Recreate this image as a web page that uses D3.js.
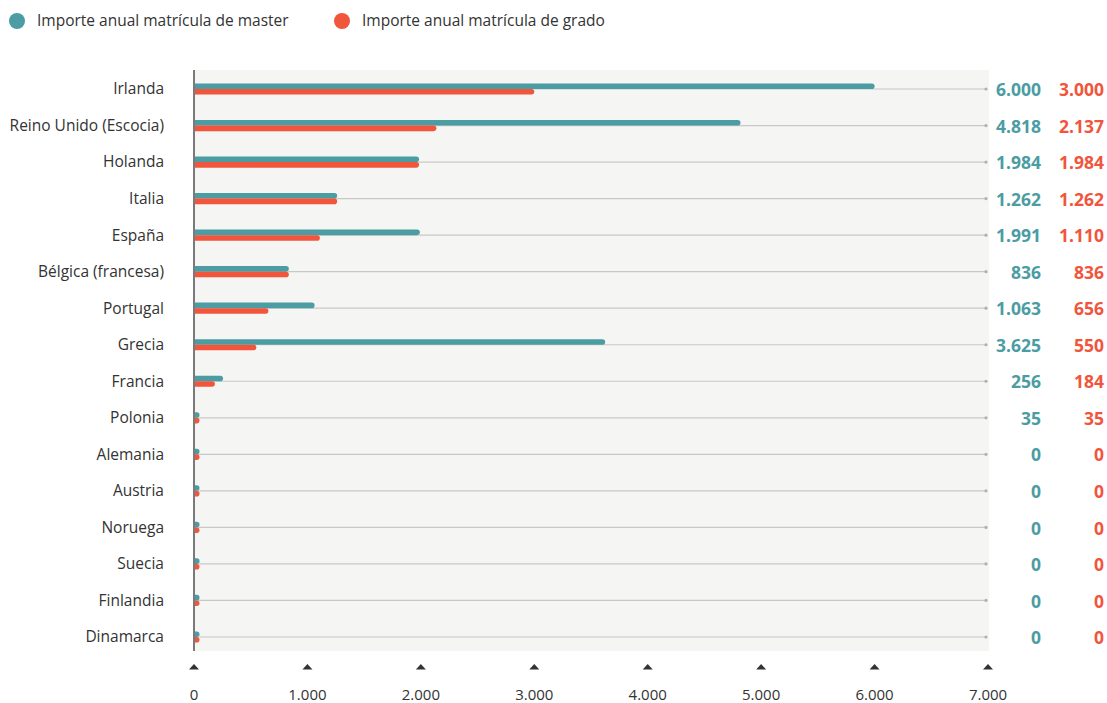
<!DOCTYPE html>
<html><head><meta charset="utf-8">
<script src="https://cdn.jsdelivr.net/npm/d3@7"></script>
<style>
html,body{margin:0;padding:0;background:#fff;}
svg{display:block;font-family:"Open Sans",sans-serif;}
</style></head>
<body>
<svg id="chart" width="1107" height="703"></svg>
<script>
const categories = ["Irlanda","Reino Unido (Escocia)","Holanda","Italia","España","Bélgica (francesa)","Portugal","Grecia","Francia","Polonia","Alemania","Austria","Noruega","Suecia","Finlandia","Dinamarca"];
const masterValues = [6000,4818,1984,1262,1991,836,1063,3625,256,35,0,0,0,0,0,0];
const gradoValues  = [3000,2137,1984,1262,1110,836,656,550,184,35,0,0,0,0,0,0];
const seriesNames = ["Importe anual matrícula de master","Importe anual matrícula de grado"];
const xTicks = [0,1000,2000,3000,4000,5000,6000,7000];

const teal = "#4b9ca3", red = "#f1553c", textCol = "#333";
const svg = d3.select("#chart");
const loc = d3.formatLocale({decimal:",", thousands:".", grouping:[3], currency:["",""]});
const fmt = loc.format(",d");

const x = d3.scaleLinear().domain([0,7000]).range([194,988]);
const y = d3.scalePoint().domain(categories).range([89,637]);

// plot background
svg.append("rect").attr("x",194).attr("y",70).attr("width",795).attr("height",581).attr("fill","#f5f5f3");

// gridlines
const g = svg.append("g");
categories.forEach(c=>{
  g.append("line").attr("x1",x(0)).attr("x2",x(7000)-2).attr("y1",y(c)).attr("y2",y(c))
   .attr("stroke","#c8c8c8").attr("stroke-width",1.2);
  g.append("circle").attr("cx",x(7000)-2).attr("cy",y(c)).attr("r",1.6).attr("fill","#b0b0b0");
});

// bars (flat left end at axis, rounded right end)
const bh = 5.6, minEnd = 5.5;
function barPath(x0, x1, y0, h){
  const r = h/2;
  const xe = Math.max(x1, x0 + minEnd);
  return `M${x0},${y0}H${xe-r}A${r},${r} 0 0 1 ${xe-r},${y0+h}H${x0}Z`;
}
categories.forEach((c,i)=>{
  svg.append("path").attr("d",barPath(x(0), x(masterValues[i]), y(c)-bh, bh)).attr("fill",teal);
  svg.append("path").attr("d",barPath(x(0), x(gradoValues[i]), y(c), bh)).attr("fill",red);
});

// vertical axis line
svg.append("line").attr("x1",x(0)).attr("x2",x(0)).attr("y1",70).attr("y2",651)
  .attr("stroke","#7a7a7a").attr("stroke-width",2);

// category labels
svg.append("g").selectAll("text").data(categories).join("text")
  .attr("x",164).attr("y",d=>y(d)).attr("dy","0.35em").attr("text-anchor","end")
  .attr("font-size",15.5).attr("fill",textCol).text(d=>d);

// value labels
svg.append("g").selectAll("text").data(categories).join("text")
  .attr("x",1041).attr("y",d=>y(d)+1).attr("dy","0.35em").attr("text-anchor","end")
  .attr("font-size",17.5).attr("font-weight","bold").attr("fill",teal)
  .text((d,i)=>fmt(masterValues[i]));
svg.append("g").selectAll("text").data(categories).join("text")
  .attr("x",1104).attr("y",d=>y(d)+1).attr("dy","0.35em").attr("text-anchor","end")
  .attr("font-size",17.5).attr("font-weight","bold").attr("fill",red)
  .text((d,i)=>fmt(gradoValues[i]));

// x axis: triangles + labels
const ax = svg.append("g");
xTicks.forEach(t=>{
  const cx = x(t);
  ax.append("path").attr("d",`M${cx-5},${669.5}L${cx+5},${669.5}L${cx},${664}Z`).attr("fill","#333");
  ax.append("text").attr("x",cx).attr("y",695).attr("dy","0.35em").attr("text-anchor","middle")
    .attr("font-size",15).attr("fill",textCol).text(fmt(t));
});

// legend
const leg = svg.append("g");
[[17,teal,seriesNames[0],37],[342,red,seriesNames[1],362]].forEach(([cx,col,txt,tx])=>{
  leg.append("circle").attr("cx",cx).attr("cy",21).attr("r",8).attr("fill",col);
  leg.append("text").attr("x",tx).attr("y",21).attr("dy","0.35em").attr("font-size",15.5)
    .attr("fill",textCol).text(txt);
});
</script>
</body></html>
